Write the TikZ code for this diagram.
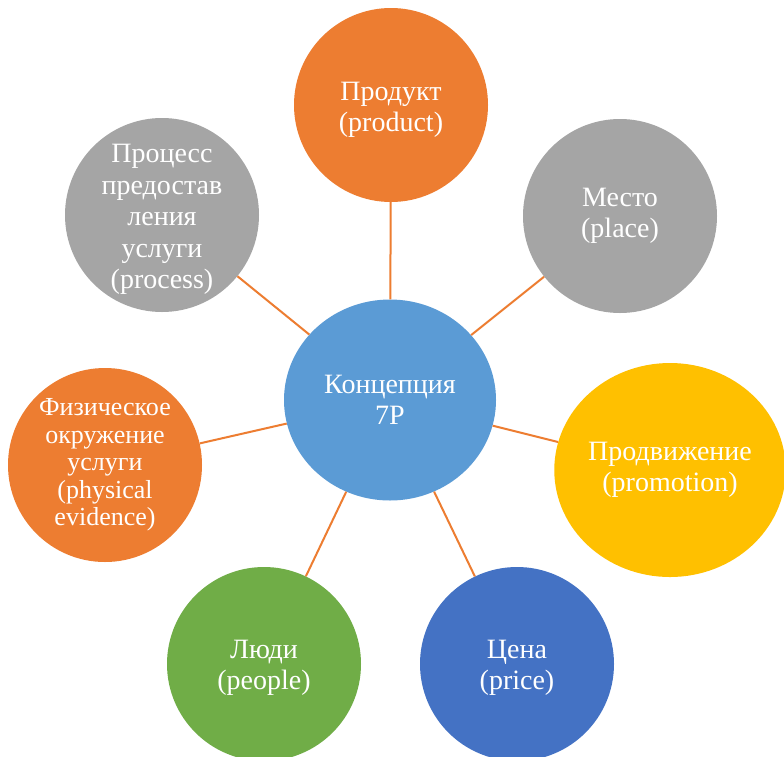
\documentclass[tikz,border=0pt]{standalone}
\usepackage{fontspec}
\setmainfont{Liberation Serif}
\usetikzlibrary{shapes.geometric}
\definecolor{cOrange}{HTML}{ED7D31}
\definecolor{cGray}{HTML}{A5A5A5}
\definecolor{cBlue}{HTML}{5B9BD5}
\definecolor{cYellow}{HTML}{FFC000}
\definecolor{cDBlue}{HTML}{4472C4}
\definecolor{cGreen}{HTML}{70AD47}
\tikzset{
  bubble/.style={circle, minimum size=194pt, inner sep=0pt, align=center, text=white,
    font=\fontsize{28}{31.5}\selectfont},
  link/.style={draw=cOrange, line width=2pt}
}
\begin{document}
\begin{tikzpicture}[x=1pt,y=-1pt]
\clip (0,0) rectangle (784,756);
\fill[white] (0,0) rectangle (784,756);
\node[bubble, ellipse, minimum width=212pt, minimum height=201pt, fill=cBlue] (c) at (390,400) {Концепция\\7P};
\node[bubble, fill=cOrange] (prod) at (391,105) {\\[-4pt]Продукт\\(product)};
\node[bubble, fill=cGray] (place) at (620,216) {Место\\(place)};
\node[bubble, ellipse, minimum width=228pt, minimum height=214pt, fill=cYellow] (promo) at (670,470) {Продвижение\\(promotion)};
\node[bubble, fill=cDBlue] (price) at (517,664) {\\[-6pt]Цена\\(price)};
\node[bubble, fill=cGreen] (people) at (264,664) {\\[-6pt]Люди\\(people)};
\node[bubble, fill=cOrange, font=\fontsize{26}{27.5}\selectfont] (phys) at (105,465) {Физическое\\окружение\\услуги\\(physical\\evidence)};
\node[bubble, fill=cGray, inner sep=-25pt] (proc) at (162,215) {\\[-4pt]Процесс\\предостав\\ления\\услуги\\(process)};
\foreach \n in {prod,place,promo,price,people,phys,proc}
  \draw[link] (c) -- (\n);
\end{tikzpicture}
\end{document}
